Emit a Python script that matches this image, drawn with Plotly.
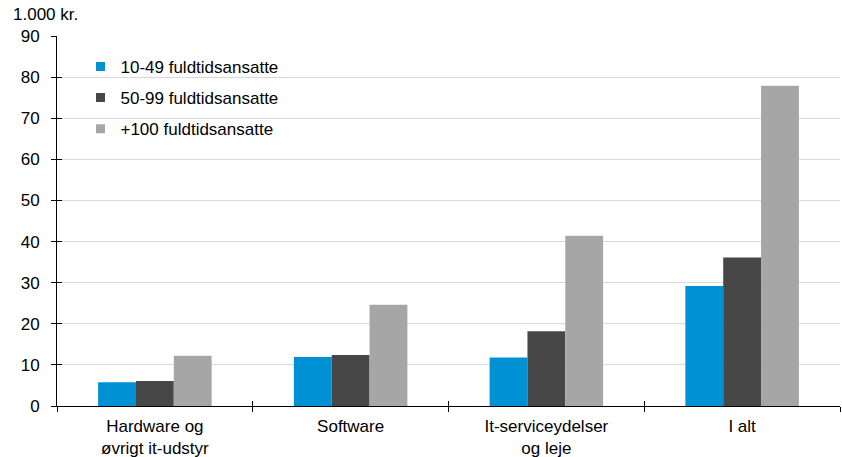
import plotly.graph_objects as go

categories = ["Hardware og<br>øvrigt it-udstyr", "Software", "It-serviceydelser<br>og leje", "I alt"]
series_names = ["10-49 fuldtidsansatte", "50-99 fuldtidsansatte", "+100 fuldtidsansatte"]
small = [5.8, 11.9, 11.8, 29.2]
medium = [6.1, 12.4, 18.2, 36.1]
large = [12.2, 24.6, 41.4, 77.9]
colors = ["#0091D5", "#474747", "#A6A6A6"]
y_ticks = [0, 10, 20, 30, 40, 50, 60, 70, 80, 90]
y_unit = "1.000 kr."

W, H = 842, 457
positions = list(range(len(categories)))
boundaries = [p - 0.5 for p in positions] + [positions[-1] + 0.5]
xr = [boundaries[0], boundaries[-1]]
yr = [0, 90]
font = dict(family="Liberation Sans, Arial, sans-serif", size=17, color="#000000")

fig = go.Figure()
for i, (name, vals) in enumerate(zip(series_names, [small, medium, large])):
    fig.add_trace(go.Bar(x=positions, y=vals, name=name, marker=dict(color=colors[i], line=dict(width=0)),
                         showlegend=False))
    # legend entry with small square symbol
    fig.add_trace(go.Scatter(x=[None], y=[None], name=name, mode="markers",
                             marker=dict(symbol="square", size=9, color=colors[i]),
                             legendgroup=f"g{i}", showlegend=True))

# invisible traces to anchor tick-only overlay axes
fig.add_trace(go.Scatter(x=[xr[0]], y=[0], xaxis="x2", yaxis="y2", mode="markers",
                         marker=dict(opacity=0), showlegend=False, hoverinfo="skip"))
fig.add_trace(go.Scatter(x=[xr[0]], y=[0], xaxis="x3", yaxis="y", mode="markers",
                         marker=dict(opacity=0), showlegend=False, hoverinfo="skip"))

fig.update_layout(
    width=W, height=H, autosize=False,
    margin=dict(l=57, r=2, t=36, b=51),
    paper_bgcolor="white", plot_bgcolor="white",
    font=font,
    barmode="group", bargap=0.42, bargroupgap=0,
    showlegend=True,
    legend=dict(x=0.030, y=0.965, xanchor="left", yanchor="top", bgcolor="rgba(0,0,0,0)",
                traceorder="grouped", tracegroupgap=6, font=font, itemwidth=30),
    xaxis=dict(range=xr, tickvals=positions, ticktext=categories, ticks="", showgrid=False,
               zeroline=False, showline=False, tickfont=font, ticklabelstandoff=8, automargin=False),
    xaxis2=dict(range=xr, overlaying="x", anchor="y", side="bottom", tickvals=boundaries,
                showticklabels=False, ticks="outside", ticklen=5, tickcolor="#000", tickwidth=1,
                showgrid=False, zeroline=False, showline=True, linecolor="#000", linewidth=1,
                automargin=False),
    xaxis3=dict(range=xr, overlaying="x", anchor="y", side="bottom", tickvals=boundaries,
                showticklabels=False, ticks="inside", ticklen=5, tickcolor="#000", tickwidth=1,
                showgrid=False, zeroline=False, showline=False, automargin=False),
    yaxis=dict(range=yr, tickvals=y_ticks, ticks="outside", ticklen=5, tickcolor="#000",
               showline=True, linecolor="#000", linewidth=1, showgrid=True, gridcolor="#D9D9D9",
               gridwidth=1, zeroline=False, tickfont=font, ticklabelstandoff=8, automargin=False),
    yaxis2=dict(range=yr, overlaying="y", anchor="x", side="left", tickvals=y_ticks,
                showticklabels=False, ticks="inside", ticklen=5, tickcolor="#000",
                showgrid=False, zeroline=False, showline=False, automargin=False),
    annotations=[dict(text=y_unit, xref="paper", yref="paper", x=0, y=1, xanchor="left",
                      yanchor="bottom", xshift=-46, yshift=10, showarrow=False, font=font)],
)

post = (
    "document.body.style.margin='0';document.body.style.overflow='hidden';"
    "var gd=document.getElementById('{plot_id}');"
    f"Plotly.relayout(gd,{{width:{W},height:{H}}});"
)
fig.write_html("out.html", config={"responsive": False, "displayModeBar": False}, post_script=post)
